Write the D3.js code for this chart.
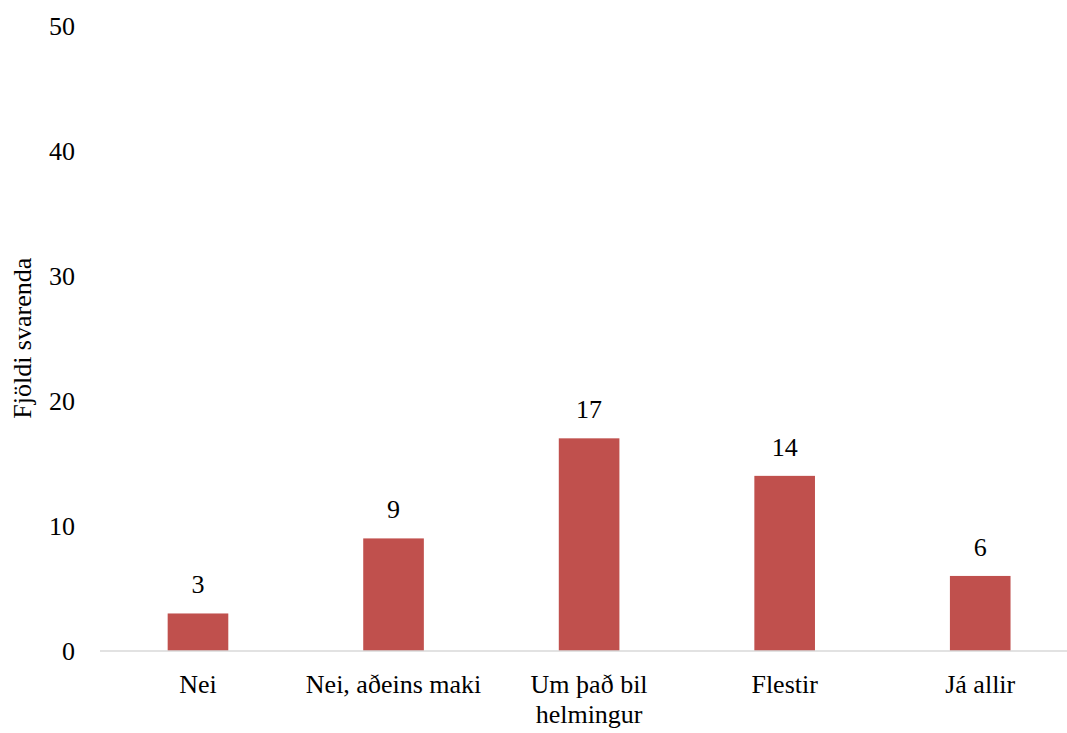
<!DOCTYPE html>
<html><head><meta charset="utf-8">
<script src="https://cdn.jsdelivr.net/npm/d3@7"></script>
<style>body{margin:0;background:#fff}svg{display:block}</style>
</head><body>
<svg id="c" width="1067" height="733"></svg>
<script>
const categories = ["Nei", "Nei, aðeins maki", "Um það bil helmingur", "Flestir", "Já allir"];
const categoryLines = [["Nei"], ["Nei, aðeins maki"], ["Um það bil", "helmingur"], ["Flestir"], ["Já allir"]];
const values = [3, 9, 17, 14, 6];
const yTicks = [0, 10, 20, 30, 40, 50];
const yTitle = "Fjöldi svarenda";

const svg = d3.select("#c");
const FONT = '"Liberation Serif"';
const fs = 26;
const x = d3.scaleBand().domain(categories).range([100.2, 1078]).paddingInner(0.69).paddingOuter(0.345);
const y = d3.scaleLinear().domain([0, 50]).range([651, 25.5]);

// y tick labels
svg.append("g").selectAll("text").data(yTicks).join("text")
  .attr("x", 75).attr("y", d => y(d)).attr("dy", "0.35em")
  .attr("text-anchor", "end").style("font-family", FONT).style("font-size", fs + "px").attr("fill", "#000")
  .text(d => d);

// bars
svg.append("g").selectAll("rect").data(values).join("rect")
  .attr("x", (d, i) => x(categories[i])).attr("width", x.bandwidth())
  .attr("y", d => y(d)).attr("height", d => y(0) - y(d))
  .attr("fill", "#C0504D");

// axis line
svg.append("line").attr("x1", 100).attr("x2", 1067).attr("y1", y(0)).attr("y2", y(0))
  .attr("stroke", "#D9D9D9").attr("stroke-width", 1.5);

// value labels
svg.append("g").selectAll("text").data(values).join("text")
  .attr("x", (d, i) => x(categories[i]) + x.bandwidth() / 2).attr("y", d => y(d) - 20)
  .attr("text-anchor", "middle").style("font-family", FONT).style("font-size", fs + "px").attr("fill", "#000")
  .text(d => d);

// category labels
const cl = svg.append("g").selectAll("text").data(categories).join("text")
  .attr("x", d => x(d) + x.bandwidth() / 2).attr("y", 693)
  .attr("text-anchor", "middle").style("font-family", FONT).style("font-size", fs + "px").attr("fill", "#000");
cl.each(function(d, i) {
  const t = d3.select(this);
  categoryLines[i].forEach((ln, j) => {
    t.append("tspan").attr("x", x(d) + x.bandwidth() / 2).attr("dy", j === 0 ? 0 : 30).text(ln);
  });
});

// y title
svg.append("text").attr("transform", `translate(31, ${(y(0) + y(50)) / 2}) rotate(-90)`)
  .attr("text-anchor", "middle").style("font-family", FONT).style("font-size", fs + "px").attr("fill", "#000")
  .text(yTitle);
</script>
</body></html>
